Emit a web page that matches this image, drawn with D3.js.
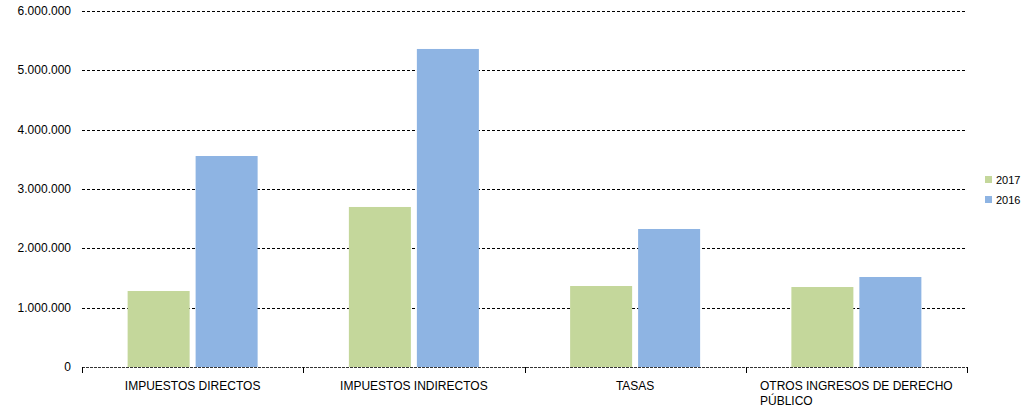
<!DOCTYPE html>
<html><head><meta charset="utf-8">
<script src="https://cdn.jsdelivr.net/npm/d3@7/dist/d3.min.js"></script>
<style>body{margin:0;background:#fff}svg{display:block;font-family:"Liberation Sans",Arial,sans-serif}</style>
</head><body><svg id="c" width="1028" height="414"></svg>
<script>
const categories = ["IMPUESTOS DIRECTOS","IMPUESTOS INDIRECTOS","TASAS","OTROS INGRESOS DE DERECHO PÚBLICO"];
const seriesNames = ["2017","2016"];
const values2017 = [1281000, 2697000, 1365000, 1348000];
const values2016 = [3556000, 5360000, 2326000, 1517000];
const yTicks = [0,1000000,2000000,3000000,4000000,5000000,6000000];
const colors = ["#C4D79B","#8EB4E3"];

const svg = d3.select("#c");
const L=82, R=967, T=11, B=367;
const x = d3.scaleBand().domain(categories).range([L,R]).paddingInner(0).paddingOuter(0);
const inner = d3.scaleBand().domain(seriesNames).range([0,x.bandwidth()]).paddingInner(0.088).paddingOuter(0.671);
const y = d3.scaleLinear().domain([0,6000000]).range([B,T]);
const fmt = v => d3.format(",")(v).replace(/,/g,".");

// gridlines
svg.append("g").selectAll("line").data(yTicks.filter(d=>d>0)).join("line")
  .attr("x1",L).attr("x2",R).attr("y1",d=>Math.round(y(d))+0.5).attr("y2",d=>Math.round(y(d))+0.5)
  .attr("stroke","#000").attr("stroke-width",1).attr("stroke-dasharray","3,2");

// y labels
svg.append("g").selectAll("text").data(yTicks).join("text")
  .attr("x",71).attr("y",d=>Math.round(y(d))+4).attr("text-anchor","end")
  .attr("font-size",12).attr("fill","#000").text(fmt);

// bars
const data = categories.map((c,i)=>({c, v:[values2017[i], values2016[i]]}));
const g = svg.append("g").selectAll("g").data(data).join("g").attr("transform",d=>`translate(${x(d.c)},0)`);
g.selectAll("rect").data(d=>d.v.map((v,j)=>({v,s:seriesNames[j],j}))).join("rect")
  .attr("x",d=>inner(d.s)).attr("width",inner.bandwidth())
  .attr("y",d=>y(d.v)).attr("height",d=>B-y(d.v)).attr("fill",d=>colors[d.j]);

// baseline axis
svg.append("line").attr("x1",L).attr("x2",R).attr("y1",B+0.5).attr("y2",B+0.5)
  .attr("stroke","#333").attr("stroke-width",1.2).attr("stroke-dasharray","3,1");
const bounds = categories.map(c=>x(c)).concat([R]);
svg.append("g").selectAll("line").data(bounds).join("line")
  .attr("x1",d=>Math.round(d)+0.5).attr("x2",d=>Math.round(d)+0.5).attr("y1",B).attr("y2",B+6)
  .attr("stroke","#000");

// x labels
const lines = [["IMPUESTOS DIRECTOS"],["IMPUESTOS INDIRECTOS"],["TASAS"],["OTROS INGRESOS DE DERECHO","PÚBLICO"]];
categories.forEach((c,i)=>{
  const cx = x(c)+x.bandwidth()/2;
  const t = svg.append("text").attr("font-size",12).attr("fill","#000");
  if(lines[i].length===1){
    t.attr("x",cx).attr("y",390).attr("text-anchor","middle").text(lines[i][0]);
  } else {
    t.attr("y",390).attr("text-anchor","start").text(lines[i][0]);
    const w = t.node().getComputedTextLength();
    t.attr("x",cx-w/2);
    svg.append("text").attr("font-size",12).attr("fill","#000").attr("x",cx-w/2).attr("y",405).text(lines[i][1]);
  }
});

// legend
seriesNames.forEach((s,i)=>{
  const ly = 180 + i*20;
  svg.append("rect").attr("x",985).attr("y",ly-4).attr("width",7).attr("height",7).attr("fill",colors[i]);
  svg.append("text").attr("x",996).attr("y",ly+4).attr("font-size",11).attr("fill","#000").text(s);
});
</script></body></html>
